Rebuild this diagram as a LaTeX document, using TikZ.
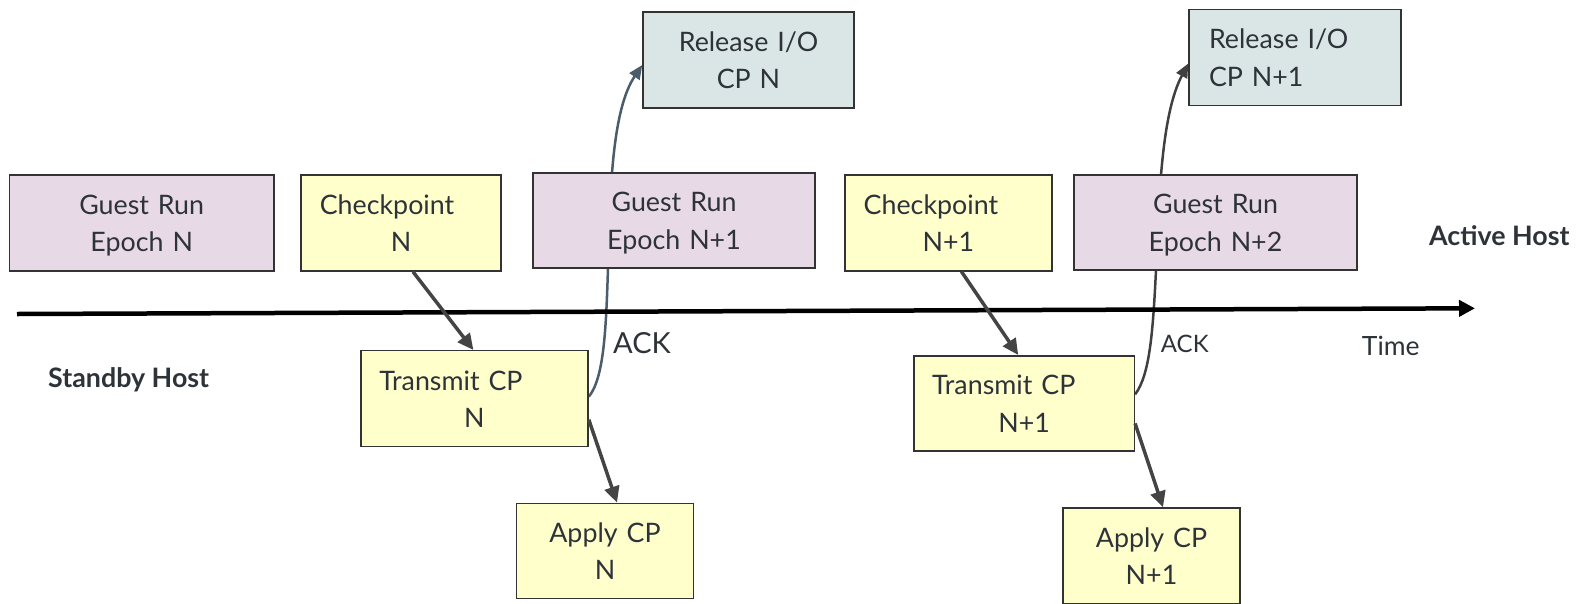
\documentclass[tikz,border=0pt]{standalone}
\usepackage{fontspec}
\setmainfont{Lato}
\usetikzlibrary{arrows.meta}
\pgfdeclarelayer{bg}
\pgfsetlayers{bg,main}
\definecolor{guestfill}{HTML}{E8D9E7}
\definecolor{yelfill}{HTML}{FFFFCC}
\definecolor{relfill}{HTML}{DAE6E6}
\definecolor{boxline}{HTML}{333333}
\definecolor{txt}{HTML}{2D3339}
\definecolor{arrowc}{HTML}{444444}
\definecolor{ackblue}{HTML}{4B5D6D}
\definecolor{ackgrey}{HTML}{404040}
\newcommand\topstr{\rule{0pt}{26.6pt}}
\newcommand\botstr{\rule[-6.5pt]{0pt}{6.5pt}}
\begin{document}
\begin{tikzpicture}[x=1pt,y=-1pt,
  box/.style={draw=boxline, line width=1.5pt, inner sep=0pt, align=center, text=txt,
    font=\fontsize{26.8}{37.5}\selectfont,
    execute at begin node=\topstr, execute at end node=\botstr},
  guest/.style={box, fill=guestfill},
  yel/.style={box, fill=yelfill},
  rel/.style={box, fill=relfill},
  conn/.style={draw=arrowc, line width=3.5pt, -{Triangle[length=16pt,width=15pt]}},
  ack/.style={line width=2.5pt, -{Triangle[length=14pt,width=12pt]}},
  lbl/.style={text=txt, inner sep=0pt, anchor=base west, font=\fontsize{26.5}{30}\selectfont},
  boldlbl/.style={lbl, font=\fontsize{26.8}{30}\selectfont\bfseries},
]
\useasboundingbox (0,0) rectangle (1584,603);

% time axis
\coordinate (t0) at (17,314);
\coordinate (t1) at (1475,308.3);
\draw[line width=4.5pt, -{Triangle[length=16pt,width=16pt]}] (t0) -- (t1);

% active host row
\node[guest, minimum width=264.7pt, minimum height=96pt, text width=258pt] (gN) at (141.7,223) {Guest Run\\Epoch N};
\node[yel, minimum width=200pt, minimum height=96pt, text width=194pt] (cN) at (401,223) {Checkpoint\makebox[28pt]{}\\N};
\node[guest, minimum width=282pt, minimum height=95pt, text width=276pt] (gN1) at (674,220.5) {Guest Run\\Epoch N+1};
\node[rel, minimum width=211pt, minimum height=96pt, text width=205pt] (rN) at (748.5,60) {Release I/O\\CP N};
\node[yel, minimum width=206.7pt, minimum height=95.7pt, text width=200pt] (cN1) at (948.4,222.9) {Checkpoint\makebox[35pt]{}\\N+1};
\node[guest, minimum width=283pt, minimum height=95pt, text width=277pt] (gN2) at (1215.5,222.5) {Guest Run\\Epoch N+2};
\node[rel, minimum width=212pt, minimum height=95.8pt, text width=172pt, align=left] (rN1) at (1295,57.5) {Release I/O\\CP N+1};

% standby host row
\node[yel, minimum width=227.3pt, minimum height=96pt, text width=221pt] (tN) at (474.4,398.7) {Transmit CP\makebox[47pt]{}\\N};
\node[yel, minimum width=220.3pt, minimum height=95.3pt, text width=214pt] (tN1) at (1024.2,403.4) {Transmit CP\makebox[41pt]{}\\N+1};
\node[yel, minimum width=176.6pt, minimum height=95.4pt, text width=170pt] (aN) at (605,551) {Apply CP\\N};
\node[yel, minimum width=177pt, minimum height=95.5pt, text width=171pt] (aN1) at (1151.5,555.8) {Apply CP\\N+1};

% labels
\node[boldlbl] (sb) at (48,387.7) {Standby Host};
\node[boldlbl] (ah) at (1429,245.8) {Active Host};
\node[lbl, font=\fontsize{29}{34}\selectfont] (ack1) at (613,353.4) {ACK};
\node[lbl, font=\fontsize{24}{28}\selectfont] (ack2) at (1160.7,352.3) {ACK};
\node[lbl] (tm) at (1361.7,355.7) {Time};

% connectors
\draw[conn] ([xshift=12pt]cN.south) -- ([xshift=-1pt]tN.north);
\draw[conn] ([yshift=-21pt]tN.east) -- ([xshift=12pt]aN.north);
\draw[conn] ([xshift=13pt]cN1.south) -- ([xshift=-6pt]tN1.north);
\draw[conn] ([yshift=-20pt]tN1.east) -- ([xshift=11.5pt]aN1.north);

\begin{pgfonlayer}{bg}
\draw[ack, draw=ackblue] ([yshift=2pt]tN.east) .. controls (604,378) and (606,330) .. (608,268)
  .. controls (610,190) and (612,110) .. ([yshift=-5pt]rN.west);
\draw[ack, draw=ackgrey] ([yshift=9pt]tN1.east) .. controls (1150,375) and (1153,330) .. (1156,270)
  .. controls (1159,200) and (1161,115) .. ([yshift=-6pt]rN1.west);
\end{pgfonlayer}
\end{tikzpicture}
\end{document}
